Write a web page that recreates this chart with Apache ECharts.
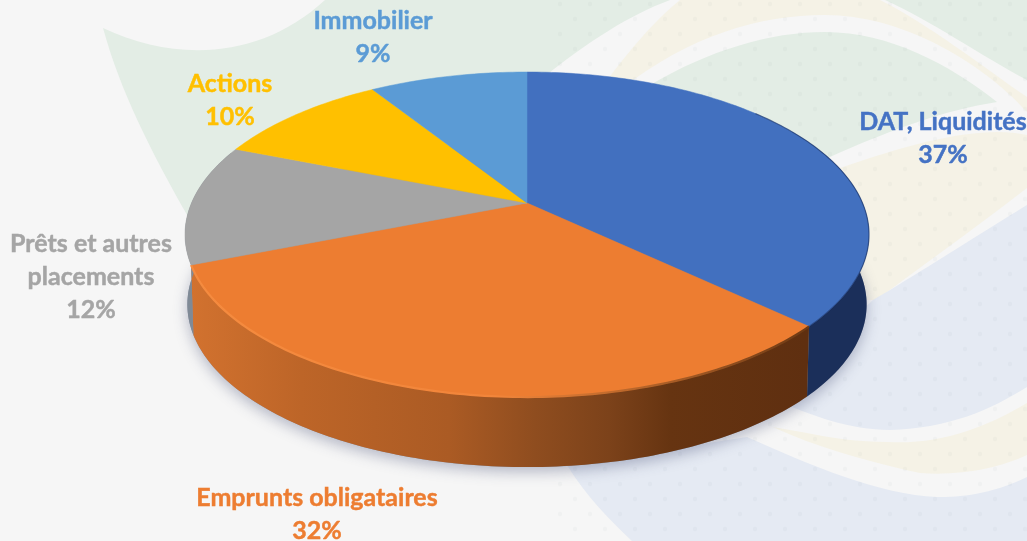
<!DOCTYPE html>
<html>
<head>
<meta charset="utf-8">
<title>Répartition des placements</title>
<style>
  html, body { margin: 0; padding: 0; background: #f6f6f6; }
  #main { width: 1027px; height: 541px; }
</style>
<script src="https://cdn.jsdelivr.net/npm/echarts@6/dist/echarts.min.js"></script>
</head>
<body>
<div id="main"></div>
<script>
// donnees
var categories = ['DAT, Liquidités', 'Emprunts obligataires', 'Prêts et autres\nplacements', 'Actions', 'Immobilier'];
var values = [37, 32, 12, 10, 9];

// couleurs par part
var topColors = ['#4270bf', '#ed7d31', '#a5a5a5', '#ffc000', '#5b9bd5'];
var labelColors = ['#4472c4', '#ed7d31', '#a5a5a5', '#ffc000', '#5b9bd5'];
var labelAnchors = [[943, 105], [317, 481], [91, 227], [230, 67], [373, 4]];

// perspective du disque
var cx = 527, cy = 203, rx = 335.5, ry = 156.4, persp = 0.194, depth = 70;

var total = values.reduce(function (a, b) { return a + b; }, 0);
var starts = [];
values.reduce(function (acc, v, i) { starts[i] = acc; return acc + v; }, 0);

function project(deg, down) {
    var t = deg * Math.PI / 180;
    var u = Math.sin(t), v = Math.cos(t);
    var w = 1 + persp * v;
    var sx = down ? 0.993 : 1;
    return [cx + rx * sx * u / w, cy - ry * v / w + (down ? depth : 0)];
}

function arc(from, to, down) {
    var pts = [];
    var n = Math.max(2, Math.ceil(Math.abs(to - from)));
    for (var i = 0; i <= n; i++) {
        pts.push(project(from + (to - from) * i / n, down));
    }
    return pts;
}

function angles(i, v) {
    var a = starts[i] / total * 360;
    return [a, a + v / total * 360];
}

var orangeSide = new echarts.graphic.LinearGradient(190, 0, 806, 0, [
    { offset: 0, color: '#d2722f' },
    { offset: 0.18, color: '#bd6528' },
    { offset: 0.42, color: '#ab5b24' },
    { offset: 0.56, color: '#8f4d1f' },
    { offset: 0.68, color: '#7c421a' },
    { offset: 0.78, color: '#663411' },
    { offset: 1, color: '#5f2f10' }
], true);
var orangeRim = new echarts.graphic.LinearGradient(190, 0, 806, 0, [
    { offset: 0, color: '#f58b3f' },
    { offset: 0.5, color: '#f2853a' },
    { offset: 0.72, color: '#b9662a' },
    { offset: 1, color: '#6e3a14' }
], true);
var sideColors = ['#1b2f5a', orangeSide, '#7f8a96', '#7f8a96', '#7f8a96'];

// cote du camembert
function renderSide(params, api) {
    var i = params.dataIndex;
    var a = angles(i, api.value(1));
    var from = Math.max(a[0], 60), to = Math.min(a[1], 290);
    if (to <= from) return null;
    var pts = arc(from, to, false).concat(arc(to, from, true));
    return { type: 'polygon', shape: { points: pts }, style: { fill: sideColors[i] } };
}

// face du dessus
function renderTop(params, api) {
    var i = params.dataIndex;
    var a = angles(i, api.value(1));
    var pts = [[cx, cy]].concat(arc(a[0], a[1], false));
    var children = [{
        type: 'polygon',
        shape: { points: pts },
        style: { fill: topColors[i], stroke: topColors[i], lineWidth: 0.5 }
    }];
    if (i === 0) {
        children.push({
            type: 'polyline',
            shape: { points: arc(50, a[1], false) },
            style: { fill: null, stroke: 'rgba(20,40,85,0.5)', lineWidth: 1.2 }
        });
    }
    if (i === 1) {
        children.push({
            type: 'polyline',
            shape: { points: arc(a[0], a[1], false) },
            style: { fill: null, stroke: orangeRim, lineWidth: 2.2 }
        });
    }
    return { type: 'group', children: children };
}

function renderLabel(params, api) {
    var i = params.dataIndex;
    return {
        type: 'text',
        style: {
            x: labelAnchors[i][0],
            y: labelAnchors[i][1],
            text: categories[i] + '\n' + api.value(1) + '%',
            fill: labelColors[i],
            stroke: labelColors[i],
            lineWidth: 0.45,
            fontFamily: 'Lato',
            fontWeight: 700,
            fontSize: 25,
            lineHeight: 33,
            align: 'center',
            verticalAlign: 'top'
        }
    };
}

var seriesData = categories.map(function (c, i) { return [i, values[i]]; });

// decor de fond
var GREEN = '#e3ede5', PALE = '#f6f6f6', CREAM = '#f5f2e6', BLUE = '#e5eaf3';
function shape(path, fill) {
    return { type: 'path', silent: true, shape: { pathData: path }, style: { fill: fill } };
}
var backdrop = [
    shape('M103 28C175 62 260 60 325 0L1027 0L1027 300L600 300L190 220C150 150 120 90 103 28Z', GREEN),
    shape('M540 80C590 40 630 15 670 0L885 0C930 20 980 55 1027 80L1027 541L700 541L540 300Z', PALE),
    shape('M600 90C625 55 655 20 680 0L880 0C930 25 980 65 1027 97L1027 300L800 300L600 200Z', CREAM),
    shape('M620 90C690 35 760 15 825 15C900 15 980 60 1027 112L1027 135C985 125 920 140 843 167L700 220Z', PALE),
    shape('M650 85C710 50 770 32 825 32C890 32 950 65 997 102C945 110 890 130 830 157L700 200Z', GREEN),
    shape('M860 312C900 282 970 232 1027 188L1027 420L780 420Z', PALE),
    shape('M860 312L873 300C900 285 970 240 1027 205L1027 387C990 410 950 428 890 430C850 430 810 415 775 400Z', BLUE),
    shape('M773 427C800 440 850 458 920 473C960 476 1000 468 1027 455L1027 403C985 428 940 445 887 442C860 442 830 438 807 433Z', CREAM),
    shape('M567 465C585 495 610 520 632 541L1027 541L1027 477C990 495 960 497 937 497C880 495 810 465 747 437Z', BLUE)
];

// points discrets du motif
for (var row = 0; row < 37; row++) {
    for (var col = 0; col < 16; col++) {
        var dx = 560 + col * 30 + (row % 2) * 15;
        var dy = 4 + row * 15;
        if (dx < 1027) {
            backdrop.push({
                type: 'circle', silent: true,
                shape: { cx: dx, cy: dy, r: 2.2 },
                style: { fill: 'rgba(110,120,120,0.04)' }
            });
        }
    }
}

// ombre sous le disque
backdrop.push({
    type: 'polygon', silent: true,
    shape: { points: arc(0, 360, true) },
    style: { fill: '#8a8fa0', shadowBlur: 14, shadowColor: 'rgba(60,70,110,0.35)', shadowOffsetY: 5 }
});

function renderBackdrop() {
    return { type: 'group', children: backdrop };
}

var chart = echarts.init(document.getElementById('main'), null, { renderer: 'canvas' });
chart.setOption({
    animation: false,
    backgroundColor: PALE,
    tooltip: { show: false },
    series: [
        { type: 'custom', name: 'fond', coordinateSystem: 'none', z: 1, silent: true, renderItem: renderBackdrop, data: [[0]] },
        { type: 'custom', name: 'cote', coordinateSystem: 'none', z: 3, silent: true, renderItem: renderSide, data: seriesData },
        { type: 'custom', name: 'dessus', coordinateSystem: 'none', z: 4, silent: true, renderItem: renderTop, data: seriesData },
        { type: 'custom', name: 'etiquettes', coordinateSystem: 'none', z: 5, silent: true, renderItem: renderLabel, data: seriesData }
    ]
});
</script>
</body>
</html>
